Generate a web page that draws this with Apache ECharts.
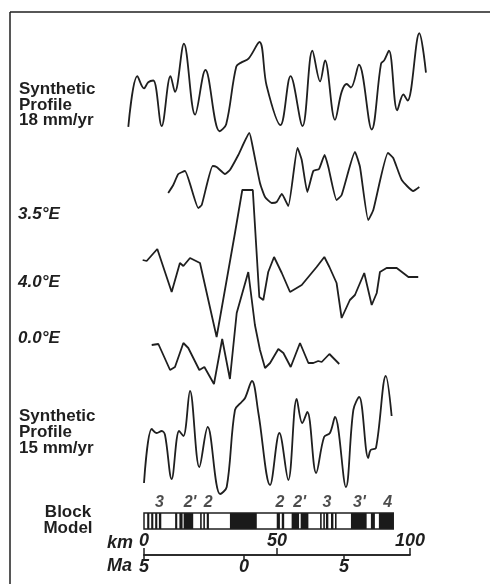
<!DOCTYPE html>
<html>
<head>
<meta charset="utf-8">
<script src="https://cdn.jsdelivr.net/npm/echarts@6/dist/echarts.min.js"></script>
<style>
  html, body { margin: 0; padding: 0; background: #fff; }
  #chart { width: 490px; height: 584px; }
</style>
</head>
<body>
<div id="chart"></div>
<script>
// Magnetic anomaly profiles: distance along track (km) vs anomaly (nT)
const synthetic18 = [
  [-5.9, -450], [-2.5, 130], [0.0, -10], [1.6, 60], [3.5, 80], [6.65, -440],
  [9.96, 130], [11.65, -50], [15.0, 500], [19.2, -310], [23.1, 200], [28.4, -500],
  [30.9, -420], [34.7, 240], [36.8, 290], [39.3, 330], [43.4, 520], [46.1, 20],
  [51.3, -430], [55.1, 130], [59.6, -440], [63.3, 420], [66.2, 70], [68.05, 310],
  [71.8, -370], [74.3, -50], [76.2, 40], [77.8, 0], [80.8, 260], [85.6, -480],
  [89.1, 270], [90.3, 310], [92.1, 420], [95.2, -260], [97.5, -80], [99.1, -150],
  [103.5, 620], [106.0, 170]
];

const profile35E = [
  [9.1, -130], [11.0, -50], [12.9, 60], [15.4, 90], [20.4, -280], [21.7, -250],
  [25.8, 140], [27.3, 130], [30.45, 60], [32.3, 100], [35.45, 250], [39.6, 470],
  [41.1, 300], [43.6, -30], [45.5, -170], [48.0, -230], [49.9, -220], [51.8, -140],
  [54.25, -260], [57.7, 320], [59.3, 200], [61.4, -120], [63.65, 90], [65.8, 110],
  [67.9, 250], [69.3, 130], [72.4, -200], [74.3, -150], [79.3, 280], [81.2, 130],
  [84.3, -400], [86.2, -300], [91.7, 270], [93.7, 220], [96.9, 0], [101.2, -110],
  [103.5, -70]
];

const profile40E = [
  [-0.5, 100], [1.0, 90], [5.0, 210], [10.4, -220], [13.5, 70], [14.8, 40],
  [17.3, 120], [21.05, 70], [27.3, -670], [34.2, 370], [36.95, 800], [40.9, 800],
  [43.35, -270], [44.85, -300], [46.7, -20], [48.9, 130], [51.8, -30], [54.9, -220],
  [59.3, -150], [64.9, 30], [67.8, 130], [69.7, 30], [72.4, -130], [74.3, -480],
  [77.4, -300], [79.3, -250], [82.8, -30], [85.6, -350], [87.5, -230], [88.7, -20],
  [91.2, 20], [95.0, 20], [99.4, -70], [103.1, -70]
];

const profile00E = [
  [2.9, 50], [5.4, 60], [9.8, -200], [11.65, -170], [14.8, 70], [16.65, 20],
  [20.8, -200], [22.7, -170], [26.3, -340], [29.4, 110], [32.3, -290], [34.85, 370],
  [39.2, 780], [41.7, 250], [43.6, 0], [45.5, -180], [47.4, -130], [50.5, 10],
  [52.4, -30], [55.15, -170], [58.65, 70], [61.8, -130], [63.65, -130], [65.5, -110],
  [66.8, -120], [69.7, -40], [73.4, -140]
];

const synthetic15 = [
  [0.0, -430], [2.9, 110], [4.8, 70], [6.65, 90], [7.9, 50], [10.4, -390],
  [13.2, 90], [14.8, 40], [17.3, 490], [20.8, -270], [23.95, 130], [28.6, -540],
  [31.1, -470], [34.2, 300], [36.7, 380], [38.0, 420], [40.6, 590], [43.0, 270],
  [47.4, -450], [50.9, 70], [54.25, -400], [57.4, 410], [59.5, 170], [61.4, 280],
  [64.7, -330], [67.7, 30], [69.9, 70], [71.8, 230], [75.9, -470], [78.7, 300],
  [80.9, 430], [84.3, -180], [85.2, -100], [87.2, -80], [90.9, 640], [93.1, 240]
];

// Block model: normally magnetised blocks, [start km, end km]
const normalBlocks = [
  [1.2, 2.0], [2.7, 3.5], [4.2, 5.0], [5.6, 6.5], [11.7, 12.5], [13.3, 14.5],
  [14.9, 18.5], [21.1, 21.7], [22.3, 22.9], [23.6, 24.4], [32.3, 42.4],
  [49.9, 51.1], [51.8, 52.7], [55.5, 58.3], [58.9, 61.8], [66.2, 66.8],
  [67.4, 68.0], [68.4, 69.3], [70.3, 71.2], [71.8, 72.4], [77.8, 83.7],
  [85.3, 86.8], [88.3, 93.7]
];
const modelExtent = [[0, 93.7]];

// Anomaly identifications above the block model
const chronNames = ['3', "2'", '2', '2', "2'", '3', "3'", '4'];
const chronKm = [5.8, 17.3, 24.1, 51.1, 58.5, 68.8, 81.0, 91.6];

// Scale bar ticks
const kmTicks = { min: 0, max: 100, interval: 50 };
const maTicks = { min: -5, max: 8.3, interval: 5 };

const INK = '#1f1f1f';
const FONT = '"Liberation Sans", Arial, sans-serif';

// One grid per profile; each centred on its own zero line
const profileRows = [
  { data: synthetic18, zeroY: 75, smooth: 0.35 },
  { data: profile35E, zeroY: 180, smooth: 0.15 },
  { data: profile40E, zeroY: 270, smooth: 0 },
  { data: profile00E, zeroY: 350, smooth: 0 },
  { data: synthetic15, zeroY: 440, smooth: 0.35 }
];

const KM_LEFT = 144, PX_PER_KM = 2.66;
const grids = [], xAxes = [], yAxes = [], series = [];

profileRows.forEach((row, i) => {
  grids.push({
    left: KM_LEFT - 10 * PX_PER_KM, width: 120 * PX_PER_KM,
    top: row.zeroY - 100, height: 200, containLabel: false
  });
  xAxes.push({ gridIndex: i, type: 'value', min: -10, max: 110, show: false });
  yAxes.push({ gridIndex: i, type: 'value', min: -1000, max: 1000, show: false });
  series.push({
    type: 'line', xAxisIndex: i, yAxisIndex: i, data: row.data,
    smooth: row.smooth, symbol: 'none', clip: false, silent: true,
    lineStyle: { color: INK, width: 1.8 }
  });
});

// Block model grid
const bi = grids.length;
grids.push({ left: KM_LEFT, width: 100 * PX_PER_KM, top: 513, height: 16 });
xAxes.push({ gridIndex: bi, type: 'value', min: 0, max: 100, show: false });
yAxes.push({ gridIndex: bi, type: 'value', min: 0, max: 1, show: false });

function blockRect(fill, stroke) {
  return function (params, api) {
    const a = api.coord([api.value(0), 1]);
    const b = api.coord([api.value(1), 0]);
    return {
      type: 'rect',
      shape: { x: a[0], y: a[1], width: b[0] - a[0], height: b[1] - a[1] },
      style: stroke ? { fill: 'none', stroke: stroke, lineWidth: 1.5 } : { fill: fill }
    };
  };
}

series.push({
  type: 'custom', xAxisIndex: bi, yAxisIndex: bi, data: normalBlocks,
  encode: { x: [0, 1] }, renderItem: blockRect('#1a1a1a'), silent: true
});
series.push({
  type: 'custom', xAxisIndex: bi, yAxisIndex: bi, data: modelExtent,
  encode: { x: [0, 1] }, renderItem: blockRect(null, INK), silent: true, z: 5
});
series.push({
  type: 'scatter', xAxisIndex: bi, yAxisIndex: bi, symbolSize: 0, silent: true,
  data: chronKm.map((k, j) => ({ value: [k, 1], name: chronNames[j] })),
  label: {
    show: true, position: 'top', distance: 2, formatter: '{b}', color: INK,
    fontFamily: FONT, fontWeight: 'bold', fontStyle: 'italic', fontSize: 16
  }
});

// Scale bar: km above the line, Ma below
const si = grids.length;
grids.push({ left: KM_LEFT, width: 100 * PX_PER_KM, top: 554, height: 1 });
const axisText = { color: INK, fontFamily: FONT, fontWeight: 'bold', fontStyle: 'italic', fontSize: 18 };
xAxes.push({
  gridIndex: si, type: 'value', position: 'top', min: kmTicks.min, max: kmTicks.max,
  interval: kmTicks.interval,
  axisLine: { lineStyle: { color: INK, width: 1.5 } },
  axisTick: { length: 7, lineStyle: { color: INK, width: 1.5 } },
  axisLabel: Object.assign({ margin: 4 }, axisText),
  splitLine: { show: false }
});
xAxes.push({
  gridIndex: si, type: 'value', position: 'bottom', min: maTicks.min, max: maTicks.max,
  interval: maTicks.interval,
  axisLine: { lineStyle: { color: INK, width: 1.5 } },
  axisTick: { length: 6, lineStyle: { color: INK, width: 1.5 } },
  axisLabel: Object.assign({ margin: 3, showMaxLabel: false, formatter: v => String(Math.abs(v)) }, axisText),
  splitLine: { show: false }
});
yAxes.push({ gridIndex: si, type: 'value', show: false });

const txt = (text, x, y, extra) => ({
  type: 'text', x: x, y: y, silent: true,
  style: Object.assign({ text: text, fill: INK, fontFamily: FONT, fontWeight: 'bold', fontSize: 17 }, extra)
});

const chart = echarts.init(document.getElementById('chart'), null, { renderer: 'canvas' });
chart.setOption({
  backgroundColor: '#fff',
  animation: false,
  grid: grids,
  xAxis: xAxes,
  yAxis: yAxes,
  series: series,
  graphic: [
    { type: 'line', silent: true, shape: { x1: 10, y1: 12, x2: 490, y2: 12 }, style: { stroke: INK, lineWidth: 1.5 } },
    { type: 'line', silent: true, shape: { x1: 10, y1: 12, x2: 10, y2: 584 }, style: { stroke: INK, lineWidth: 1.5 } },
    txt('Synthetic\nProfile\n18 mm/yr', 19, 82, { lineHeight: 15.5, textVerticalAlign: 'top' }),
    txt('3.5°E', 18, 214, { fontStyle: 'italic', textVerticalAlign: 'middle' }),
    txt('4.0°E', 18, 282, { fontStyle: 'italic', textVerticalAlign: 'middle' }),
    txt('0.0°E', 18, 338, { fontStyle: 'italic', textVerticalAlign: 'middle' }),
    txt('Synthetic\nProfile\n15 mm/yr', 19, 408, { lineHeight: 16, textVerticalAlign: 'top' }),
    txt('Block\nModel', 68, 504, { lineHeight: 16.5, textAlign: 'center', textVerticalAlign: 'top' }),
    txt('km', 107, 543, { fontStyle: 'italic', fontSize: 18, textVerticalAlign: 'middle' }),
    txt('Ma', 107, 566, { fontStyle: 'italic', fontSize: 18, textVerticalAlign: 'middle' })
  ]
});
</script>
</body>
</html>
